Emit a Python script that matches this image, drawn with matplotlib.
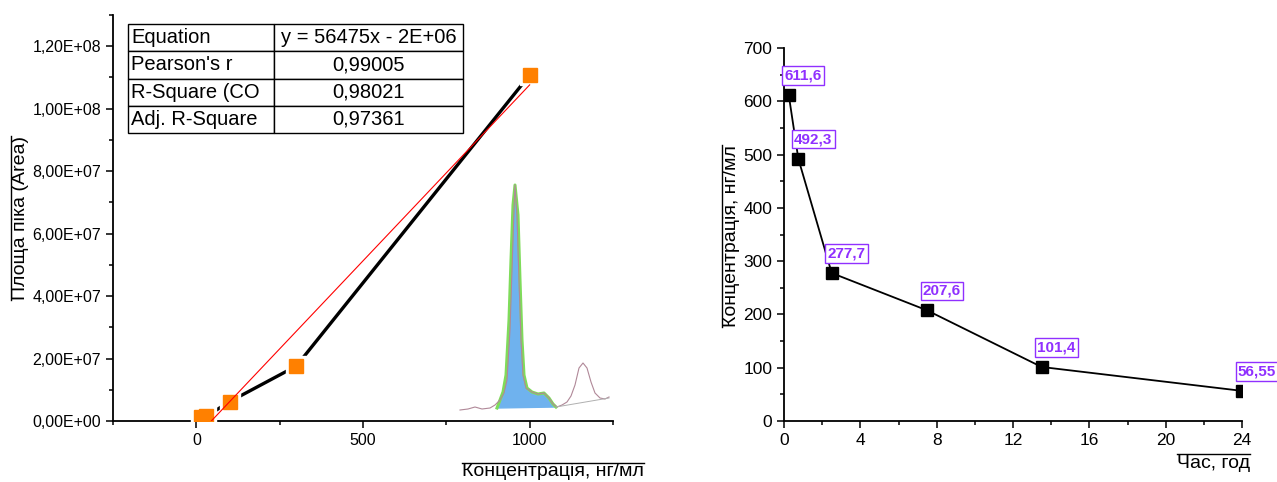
import matplotlib
matplotlib.use("Agg")
import matplotlib.pyplot as plt
import numpy as np
from matplotlib.ticker import MultipleLocator, FuncFormatter
from matplotlib.lines import Line2D

plt.rcParams['font.family'] = ['Liberation Sans', 'DejaVu Sans']

# calibration curve
conc = [15, 30, 100, 300, 1000]
area = [1.4e6, 1.5e6, 6.2e6, 1.76e7, 1.108e8]
fit_rows = ["Equation", "Pearson's r", "R-Square (CO", "Adj. R-Square"]
fit_vals = ["y = 56475x - 2E+06", "0,99005", "0,98021", "0,97361"]

# pharmacokinetic curve
time_h = [0.25, 0.75, 2.5, 7.5, 13.5, 24]
conc_t = [611.6, 492.3, 277.7, 207.6, 101.4, 56.55]

# chromatogram sketch (pixel units)
chrom_x = [460, 468, 475, 482, 490, 495, 500, 504, 507, 510, 512, 514, 515, 517, 519,
           521, 523, 526, 532, 538, 544, 549, 553, 557, 562, 567, 571, 575, 579, 583,
           587, 591, 595, 600, 605, 609]
chrom_y = [410, 409, 407, 409, 408, 405, 400, 393, 380, 330, 270, 210, 185, 215, 280,
           340, 375, 388, 392, 394, 393, 398, 404, 407, 405, 402, 396, 385, 368, 363,
           368, 382, 393, 398, 399, 397]
peak_x = [497, 500, 503, 506, 509, 511, 513, 515, 518, 520, 522, 524, 527, 532, 538,
          544, 549, 553, 556]
peak_y = [408, 400, 392, 375, 320, 260, 205, 185, 215, 280, 340, 375, 388, 392, 394,
          393, 398, 404, 407]

W, H = 1277, 482
fig = plt.figure(figsize=(W / 100, H / 100), dpi=100)

orange = '#ff8000'
purple = '#9030ff'

# ---- left panel
ax1 = fig.add_axes([113 / W, 61 / H, 500 / W, 406 / H])
ax1.plot(conc, area, color='black', lw=2.4, zorder=2)
ax1.plot(conc, area, 's', color='white', ms=14, zorder=3)
ax1.plot(conc, area, 's', color=orange, ms=9.5, zorder=4)
k, b = np.polyfit(conc, area, 1)
xf = np.array([0, 1000])
ax1.plot(xf, k * xf + b, color='red', lw=0.8, zorder=5)
ax1.set_xlim(-250, 1250)
ax1.set_ylim(0, 1.3e8)
ax1.xaxis.set_major_locator(MultipleLocator(500))
ax1.xaxis.set_minor_locator(MultipleLocator(250))
ax1.yaxis.set_major_locator(MultipleLocator(2e7))
ax1.yaxis.set_minor_locator(MultipleLocator(1e7))
ax1.yaxis.set_major_formatter(FuncFormatter(lambda v, p: f"{v:.2E}".replace('.', ',')))

tab = ax1.table(cellText=[[r, v] for r, v in zip(fit_rows, fit_vals)],
                cellLoc='center', colWidths=[0.436, 0.564],
                bbox=[0.03, 0.709, 0.67, 0.269], zorder=6)
tab.auto_set_font_size(False)
tab.set_fontsize(14.5)
for (r, c), cell in tab.get_celld().items():
    cell.set_linewidth(1)
    cell.set_facecolor('white')
    if c == 0:
        cell.PAD = 0.02
        cell.get_text().set_ha('left')

# ---- right panel
ax2 = fig.add_axes([784 / W, 61 / H, 458 / W, 373 / H])
ax2.plot(time_h, conc_t, color='black', lw=1.3, marker='s', ms=9)
for t, c in zip(time_h, conc_t):
    ax2.annotate(str(c).replace('.', ','), xy=(t, c), xytext=(-3, 9),
                 textcoords='offset points', ha='left', va='bottom',
                 color=purple, fontsize=11, fontweight='bold',
                 family=['Liberation Sans Narrow', 'Liberation Sans'],
                 bbox=dict(boxstyle='square,pad=0.15', fc='white', ec=purple, lw=1),
                 annotation_clip=False)
ax2.set_xlim(0, 24)
ax2.set_ylim(0, 700)
ax2.xaxis.set_major_locator(MultipleLocator(4))
ax2.xaxis.set_minor_locator(MultipleLocator(2))
ax2.yaxis.set_major_locator(MultipleLocator(100))
ax2.yaxis.set_minor_locator(MultipleLocator(50))

for ax, fs in ((ax1, 11.5), (ax2, 12.5)):
    for s in ('top', 'right'):
        ax.spines[s].set_visible(False)
    for s in ('left', 'bottom'):
        ax.spines[s].set_linewidth(1.3)
    ax.tick_params(which='major', direction='out', length=5, width=1.1, labelsize=fs)
    ax.tick_params(which='minor', direction='out', length=3, width=1.1)

# ---- chromatogram inset
axi = fig.add_axes([455 / W, (H - 415) / H, 157 / W, 243 / H])
axi.axis('off')
axi.set_xlim(455, 612)
axi.set_ylim(415, 172)
axi.fill(peak_x, peak_y, color='#6fb2ee')
axi.plot(peak_x, peak_y, color='#7fdc5a', lw=2.2)
axi.plot(chrom_x, chrom_y, color='#b08898', lw=0.8)
axi.plot([556, 609], [407, 398], color='#b0b0b0', lw=0.7)

# ---- axis titles with Origin-style overlines
labs = [
    fig.text(462 / W, 1 - 472 / H, "Концентрація, нг/мл", ha='left', va='center', fontsize=14),
    fig.text(21 / W, 1 - 218 / H, "Площа піка (Area)", rotation=90, ha='center', va='center', fontsize=14),
    fig.text(732 / W, 1 - 236 / H, "Концентрація, нг/мл", rotation=90, ha='center', va='center', fontsize=14),
    fig.text(1250 / W, 1 - 463 / H, "Час, год", ha='right', va='center', fontsize=14),
]
fig.canvas.draw()
rend = fig.canvas.get_renderer()
for t in labs:
    bb = t.get_window_extent(rend)
    if t.get_rotation() == 90:
        x = bb.x0 - 1
        fig.add_artist(Line2D([x / W, x / W], [bb.y0 / H, bb.y1 / H], color='black', lw=1,
                              transform=fig.transFigure))
    else:
        y = bb.y1 + 1
        fig.add_artist(Line2D([bb.x0 / W, bb.x1 / W], [y / H, y / H], color='black', lw=1,
                              transform=fig.transFigure))

fig.savefig("out.png", dpi=100)
